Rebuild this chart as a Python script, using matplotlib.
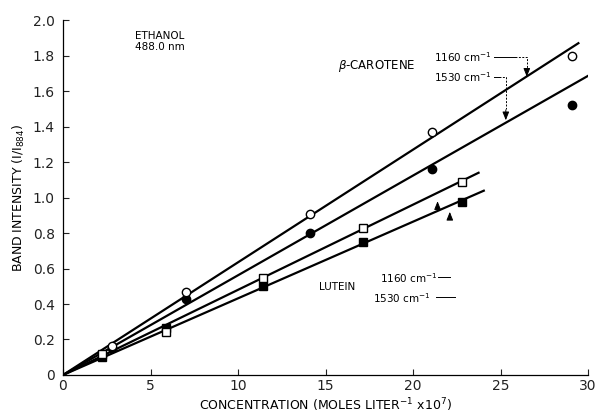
import matplotlib
matplotlib.use("Agg")
import matplotlib.pyplot as plt
import numpy as np

# Band intensity vs concentration, ethanol solution, 488.0 nm excitation
car_conc = [2.8, 7.05, 14.1, 21.1, 29.1]
car_1160 = [0.165, 0.47, 0.91, 1.37, 1.80]
car_1530 = [0.15, 0.43, 0.80, 1.16, 1.52]

lut_conc = [2.25, 5.9, 11.45, 17.15, 22.8]
lut_1160 = [0.12, 0.245, 0.545, 0.83, 1.09]
lut_1530 = [0.10, 0.265, 0.50, 0.75, 0.975]

# fitted lines through the origin: (slope, end of drawn line)
car_fit_1160 = (0.0635, 29.5)
car_fit_1530 = (0.0562, 30.1)
lut_fit_1160 = (0.0480, 23.8)
lut_fit_1530 = (0.0432, 24.1)

x_ticks = [0, 5, 10, 15, 20, 25, 30]
y_ticks = [0, 0.2, 0.4, 0.6, 0.8, 1.0, 1.2, 1.4, 1.6, 1.8, 2.0]
y_tick_labels = ["0", "0.2", "0.4", "0.6", "0.8", "1.0", "1.2", "1.4", "1.6", "1.8", "2.0"]

plt.rcParams["font.family"] = ["DejaVu Sans"]
fig = plt.figure(figsize=(5.96, 4.18), dpi=100)
ax = fig.add_axes([0.1057, 0.1029, 0.881, 0.849])

for slope, xend in (car_fit_1160, car_fit_1530, lut_fit_1160, lut_fit_1530):
    xs = np.array([0, xend])
    ax.plot(xs, slope * xs, color="black", lw=1.6, zorder=2, solid_capstyle="butt")

ms = 6
ax.plot(car_conc, car_1530, "o", ms=ms, mfc="black", mec="black", mew=1, zorder=3)
ax.plot(car_conc, car_1160, "o", ms=ms, mfc="white", mec="black", mew=1, zorder=4)
ax.plot(lut_conc, lut_1530, "s", ms=5.5, mfc="black", mec="black", mew=1, zorder=3)
ax.plot(lut_conc, lut_1160, "s", ms=5.5, mfc="white", mec="black", mew=1, zorder=4)

ax.set_xlim(0, 30)
ax.set_ylim(0, 2.0)
ax.set_xticks(x_ticks)
ax.set_yticks(y_ticks)
ax.set_yticklabels(y_tick_labels)
ax.tick_params(direction="in", length=4, width=0.8, labelsize=10, pad=3,
               colors="#222222")
ax.tick_params(axis="y", pad=6)
for side in ("top", "right"):
    ax.spines[side].set_visible(False)
for side in ("left", "bottom"):
    ax.spines[side].set_linewidth(0.9)

ax.set_xlabel(r"CONCENTRATION (MOLES LITER$^{-1}$ x10$^{7}$)", fontsize=9, labelpad=2)
ax.set_ylabel(r"BAND INTENSITY (I/I$_{884}$)", fontsize=9, labelpad=4)

arrow_style = dict(arrowstyle="-|>,head_length=0.5,head_width=0.2", color="black", lw=0.7)
txt = dict(fontsize=7.5, color="black")
ax.text(4.1, 1.88, "ETHANOL\n488.0 nm", va="center", ha="left", linespacing=1.1, **txt)
ax.text(15.7, 1.74, r"$\beta$-CAROTENE", va="center", ha="left", fontsize=8.5)
ax.text(21.2, 1.79, r"1160 cm$^{-1}$", va="center", ha="left", **txt)
ax.text(21.2, 1.68, r"1530 cm$^{-1}$", va="center", ha="left", **txt)

# β-carotene leader lines
ax.plot([24.6, 25.8], [1.79, 1.79], color="black", lw=0.7)
ax.plot([25.8, 26.5, 26.5], [1.79, 1.79, 1.72], color="black", lw=0.7, ls=(0, (2, 1.5)))
ax.annotate("", xy=(26.5, 1.665), xytext=(26.5, 1.73), arrowprops=arrow_style)
ax.plot([24.6, 24.9], [1.68, 1.68], color="black", lw=0.7)
ax.plot([24.9, 25.3, 25.3], [1.68, 1.68, 1.50], color="black", lw=0.7, ls=(0, (2, 1.5)))
ax.annotate("", xy=(25.3, 1.42), xytext=(25.3, 1.51), arrowprops=arrow_style)

# lutein labels and markers
ax.text(14.6, 0.495, "LUTEIN", va="center", ha="left", **txt)
ax.text(18.1, 0.545, r"1160 cm$^{-1}$", va="center", ha="left", **txt)
ax.text(17.7, 0.435, r"1530 cm$^{-1}$", va="center", ha="left", **txt)
ax.plot([21.4, 22.1], [0.55, 0.55], color="black", lw=0.7)
ax.plot([21.3, 22.4], [0.44, 0.44], color="black", lw=0.7)
ax.annotate("", xy=(21.4, 0.995), xytext=(21.4, 0.93), arrowprops=arrow_style)
ax.annotate("", xy=(22.1, 0.935), xytext=(22.1, 0.87), arrowprops=arrow_style)

fig.savefig("out.png", dpi=100)
